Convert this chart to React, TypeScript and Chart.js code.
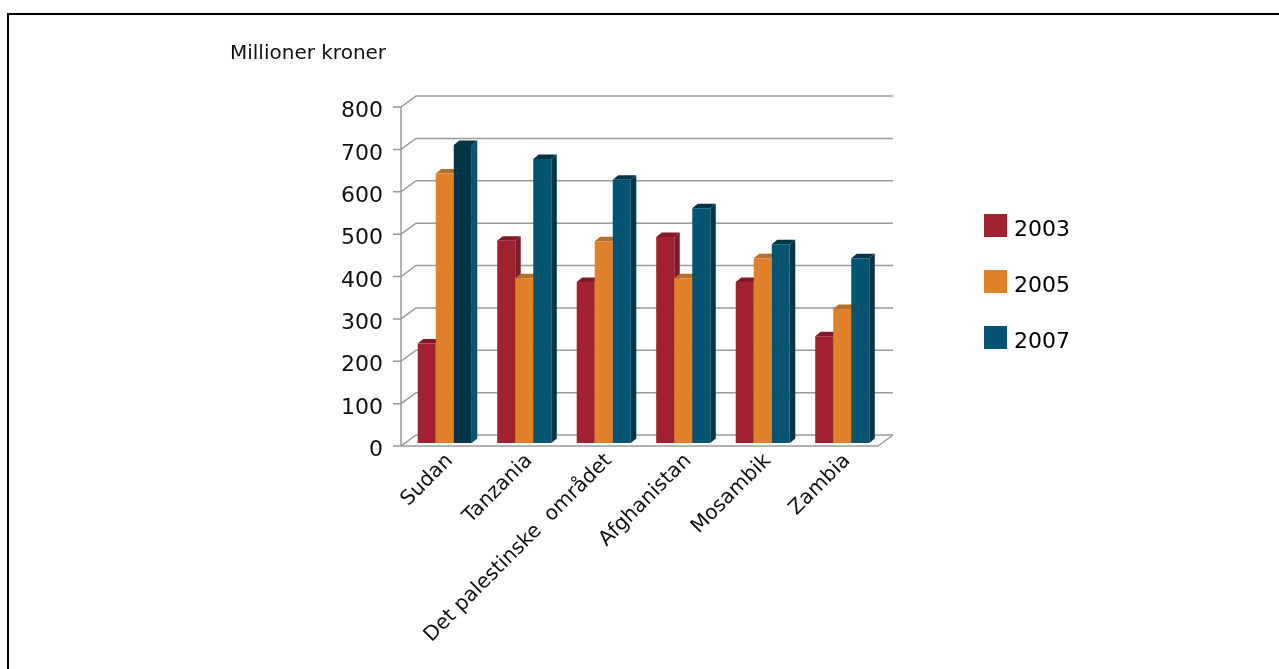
import React, { useEffect, useRef } from "react";
import { Chart, registerables } from "chart.js";

Chart.register(...registerables);

const categories = ["Sudan", "Tanzania", "Det palestinske  området", "Afghanistan", "Mosambik", "Zambia"];
const seriesLabels = ["2003", "2005", "2007"];
const values2003 = [235, 477, 380, 486, 380, 252];
const values2005 = [636, 389, 476, 389, 436, 316];
const values2007 = [703, 670, 621, 554, 469, 436];
const yMax = 800;
const yStep = 100;
const titleText = "Millioner kroner";

const RED = "#A1212F";
const ORANGE = "#E08028";
const NAVY = "#045472";
const NAVY_DARK = "#033549";
const GRID = "#989C9A";
const FONT = "'DejaVu Sans', sans-serif";
const DX = 5.5;
const DY = 4.5;
const WALL_X = 15;
const WALL_Y = 11;
const SHIFT_X = 4;
const SHIFT_Y = -3;
const LEGEND_SPACING = 56;

const faceColors = ["#7F1A26", "#B46F2B", NAVY_DARK];
const swatchColors = [RED, ORANGE, NAVY];

const frame3d = {
  id: "frame3d",
  afterLayout(chart: any) {
    const l = chart.legend;
    if (l) {
      l.left = 956;
      l.top = 185.5;
      l.right = 1279;
      l.bottom = 669;
      l.width = l.right - l.left;
      l.height = l.bottom - l.top;
    }
    const t = chart.titleBlock;
    if (t) {
      t.left = 230;
      t.right = 700;
      t.top = 42;
      t.bottom = 66;
      t.width = 470;
      t.height = 24;
    }
  },
  beforeDatasetsDraw(chart: any) {
    const { ctx, chartArea: a, scales } = chart;
    const y = scales.y;
    ctx.save();
    ctx.strokeStyle = "#000";
    ctx.lineWidth = 2;
    ctx.beginPath();
    ctx.moveTo(8, 669);
    ctx.lineTo(8, 14);
    ctx.lineTo(1279, 14);
    ctx.stroke();
    ctx.strokeStyle = GRID;
    ctx.lineWidth = 1.5;
    ctx.beginPath();
    y.ticks.forEach((t: any) => {
      const p = y.getPixelForValue(t.value);
      ctx.moveTo(a.left - 8, p);
      ctx.lineTo(a.left, p);
      ctx.lineTo(a.left + WALL_X, p - WALL_Y);
      ctx.lineTo(a.right + WALL_X, p - WALL_Y);
    });
    ctx.moveTo(a.left, y.getPixelForValue(0));
    ctx.lineTo(a.left, y.getPixelForValue(yMax));
    ctx.moveTo(a.left, y.getPixelForValue(0));
    ctx.lineTo(a.right, y.getPixelForValue(0));
    ctx.lineTo(a.right + WALL_X, y.getPixelForValue(0) - WALL_Y);
    ctx.stroke();
    // legend swatches sit a little above the legend's text baseline in the reference
    swatchColors.forEach((c, i) => {
      ctx.fillStyle = c;
      ctx.fillRect(984, 214 + i * LEGEND_SPACING, 23, 23);
    });
    ctx.restore();
  },
  beforeDatasetDraw() {
    return false;
  },
  afterDatasetsDraw(chart: any) {
    const { ctx } = chart;
    ctx.save();
    ctx.translate(SHIFT_X, SHIFT_Y);
    [0, 1, 2].forEach((i) => {
      const meta = chart.getDatasetMeta(i);
      meta.data.forEach((bar: any, k: number) => {
        const x0 = bar.x - bar.width / 2;
        const x1 = bar.x + bar.width / 2;
        const top = bar.y;
        const bot = bar.base;
        const swap = i === 2 && k === 0;
        ctx.fillStyle = swap ? NAVY : faceColors[i];
        ctx.beginPath();
        ctx.moveTo(x1, top);
        ctx.lineTo(x1 + DX, top - DY);
        ctx.lineTo(x1 + DX, bot - DY);
        ctx.lineTo(x1, bot);
        ctx.closePath();
        ctx.fill();
        ctx.fillStyle = faceColors[i];
        ctx.beginPath();
        ctx.moveTo(x0, top);
        ctx.lineTo(x0 + DX, top - DY);
        ctx.lineTo(x1 + DX, top - DY);
        ctx.lineTo(x1, top);
        ctx.closePath();
        ctx.fill();
      });
      meta.controller.draw();
    });
    ctx.restore();
  },
};

export default function App() {
  const ref = useRef<HTMLCanvasElement>(null);
  useEffect(() => {
    document.body.style.margin = "0";
    document.body.style.overflow = "hidden";
    const chart = new Chart(ref.current as HTMLCanvasElement, {
      type: "bar",
      data: {
        labels: categories,
        datasets: [
          { label: seriesLabels[0], data: values2003, backgroundColor: RED, clip: false },
          { label: seriesLabels[1], data: values2005, backgroundColor: ORANGE, clip: false },
          {
            label: seriesLabels[2],
            data: values2007,
            backgroundColor: [NAVY_DARK, NAVY, NAVY, NAVY, NAVY, NAVY],
            clip: false,
          },
        ],
      },
      options: {
        animation: false,
        responsive: false,
        devicePixelRatio: 1,
        events: [],
        categoryPercentage: 0.68,
        barPercentage: 1,
        layout: { padding: { left: 340, top: 83, right: 401, bottom: 0 } },
        plugins: {
          tooltip: { enabled: false },
          title: {
            display: true,
            text: titleText,
            align: "start",
            color: "#111",
            padding: 0,
            font: { family: FONT, size: 20, weight: "normal" },
          },
          legend: {
            position: "chartArea",
            align: "start",
            labels: {
              boxWidth: 13,
              boxHeight: 13,
              padding: LEGEND_SPACING - 22,
              color: "#111",
              font: { family: FONT, size: 22 },
              generateLabels: () =>
                seriesLabels.map((s, i) => ({
                  text: s,
                  fillStyle: "rgba(0,0,0,0)",
                  strokeStyle: "rgba(0,0,0,0)",
                  lineWidth: 0,
                  datasetIndex: i,
                })),
            },
          },
        },
        scales: {
          x: {
            grid: { display: false, drawTicks: false },
            border: { display: false },
            afterFit: (s: any) => {
              s.height = 223;
            },
            ticks: {
              maxRotation: 45,
              minRotation: 45,
              autoSkip: false,
              padding: 3,
              labelOffset: 9,
              color: "#111",
              font: { family: FONT, size: 20.3 },
            },
          },
          y: {
            min: 0,
            max: yMax,
            grid: { display: false, drawTicks: false },
            border: { display: false },
            afterFit: (s: any) => {
              s.width = 61;
            },
            ticks: {
              stepSize: yStep,
              padding: 18,
              labelOffset: 4.5,
              color: "#111",
              font: { family: FONT, size: 22 },
            },
          },
        },
      },
      plugins: [frame3d],
    } as any);
    return () => chart.destroy();
  }, []);
  return <canvas ref={ref} width={1279} height={669} style={{ display: "block" }} />;
}
